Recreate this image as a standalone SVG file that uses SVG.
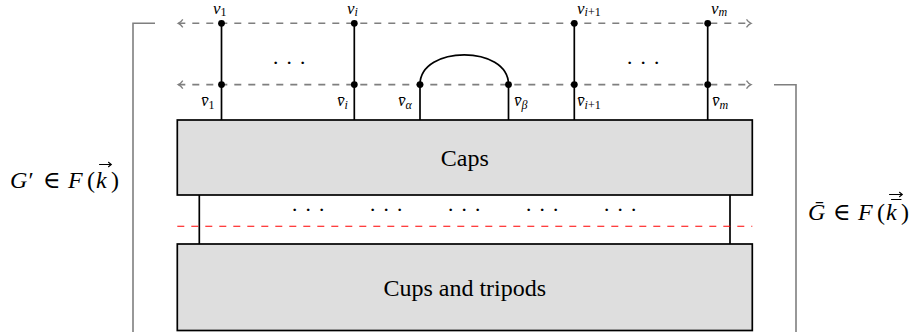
<svg xmlns="http://www.w3.org/2000/svg" width="917" height="332" viewBox="0 0 917 332">
<style>
  .lbl { font-family: "Liberation Serif", "DejaVu Serif", serif; font-size: 17px; font-style: italic; fill: #000; }
  .sub { font-size: 12px; }
  .up { font-style: normal; }
  .big { font-family: "Liberation Serif", "DejaVu Serif", serif; font-size: 24px; fill: #000; }
  .it { font-style: italic; }
  .box { fill: #dedede; stroke: #000; stroke-width: 1.7; }
  .wire { stroke: #000; stroke-width: 1.7; fill: none; }
  .gdash { stroke: #7f7f7f; stroke-width: 1.6; stroke-dasharray: 7 7; fill: none; }
  .rdash { stroke: #ff0000; stroke-width: 1.1; stroke-dasharray: 7 7; fill: none; }
  .bracket { stroke: #7f7f7f; stroke-width: 1.6; fill: none; }
  .dot { fill: #000; }
  .dots { font-family: "Liberation Serif", "DejaVu Serif", serif; font-size: 22px; fill: #000; letter-spacing: 6.2px; }
  .acc { stroke: #000; stroke-width: 1.1; fill: none; stroke-linecap: round; }
</style>
<defs>
  <marker id="arr" markerUnits="userSpaceOnUse" markerWidth="12" markerHeight="12" refX="9" refY="6" orient="auto-start-reverse" viewBox="0 0 12 12">
    <path d="M4.5,2 Q6.5,5 9,6 Q6.5,7 4.5,10" fill="none" stroke="#7f7f7f" stroke-width="1.3"/>
  </marker>
</defs>

<g id="brackets">
  <path class="bracket" d="M155,23.3 H133 V332"/>
  <path class="bracket" d="M774,84.7 H796 V332"/>
</g>

<g id="connectors">
  <path class="gdash" d="M178.3,23.3 H751" marker-start="url(#arr)" marker-end="url(#arr)"/>
  <path class="gdash" d="M178.3,84.6 H751" marker-start="url(#arr)" marker-end="url(#arr)"/>
  <line class="wire" x1="221.5" y1="23.3" x2="221.5" y2="120"/>
  <line class="wire" x1="354.3" y1="23.3" x2="354.3" y2="120"/>
  <line class="wire" x1="574.3" y1="23.3" x2="574.3" y2="120"/>
  <line class="wire" x1="707.7" y1="23.3" x2="707.7" y2="120"/>
  <line class="wire" x1="420" y1="84.6" x2="420" y2="120"/>
  <line class="wire" x1="508.5" y1="84.6" x2="508.5" y2="120"/>
  <path class="wire" d="M420,84.6 C420,45 508.5,45 508.5,84.6"/>
  <line class="wire" x1="199.3" y1="195" x2="199.3" y2="244"/>
  <line class="wire" x1="730" y1="195" x2="730" y2="244"/>
  <path class="rdash" d="M177.3,226.3 H752.3"/>
</g>

<g id="vertices">
  <circle class="dot" cx="221.5" cy="23.3" r="3.4"/>
  <circle class="dot" cx="354.3" cy="23.3" r="3.4"/>
  <circle class="dot" cx="574.3" cy="23.3" r="3.4"/>
  <circle class="dot" cx="707.7" cy="23.3" r="3.4"/>
  <circle class="dot" cx="221.5" cy="84.6" r="3.4"/>
  <circle class="dot" cx="354.3" cy="84.6" r="3.4"/>
  <circle class="dot" cx="420" cy="84.6" r="3.4"/>
  <circle class="dot" cx="508.5" cy="84.6" r="3.4"/>
  <circle class="dot" cx="574.3" cy="84.6" r="3.4"/>
  <circle class="dot" cx="707.7" cy="84.6" r="3.4"/>
</g>

<g id="labels">
  <text class="lbl" x="213" y="13.5">v<tspan class="sub up" dy="2.5">1</tspan></text>
  <text class="lbl" x="347" y="13.5">v<tspan class="sub" dy="2.5">i</tspan></text>
  <text class="lbl" x="577" y="13.5">v<tspan class="sub" dy="2.5">i<tspan class="up">+1</tspan></tspan></text>
  <text class="lbl" x="711" y="13.5">v<tspan class="sub" dy="2.5">m</tspan></text>
  <text class="lbl" x="201" y="106">v̄<tspan class="sub up" dy="2.5">1</tspan></text>
  <text class="lbl" x="337" y="106">v̄<tspan class="sub" dy="2.5">i</tspan></text>
  <text class="lbl" x="398" y="106">v̄<tspan class="sub" dy="2.5">α</tspan></text>
  <text class="lbl" x="514" y="106">v̄<tspan class="sub" dy="2.5">β</tspan></text>
  <text class="lbl" x="577" y="106">v̄<tspan class="sub" dy="2.5">i<tspan class="up">+1</tspan></tspan></text>
  <text class="lbl" x="712" y="106">v̄<tspan class="sub" dy="2.5">m</tspan></text>
  <text class="dots" x="272" y="70">···</text>
  <text class="dots" x="626" y="70">···</text>
</g>

<g id="caps">
  <rect class="box" x="177.3" y="120" width="575" height="75"/>
  <text class="big" x="464.8" y="165.5" text-anchor="middle">Caps</text>
</g>

<g id="cups">
  <rect class="box" x="177.3" y="244" width="575" height="86.5"/>
  <text class="big" x="464.8" y="296" text-anchor="middle">Cups and tripods</text>
</g>

<g id="middots">
  <text class="dots" x="291" y="217">···</text>
  <text class="dots" x="369" y="217">···</text>
  <text class="dots" x="447" y="217">···</text>
  <text class="dots" x="525" y="217">···</text>
  <text class="dots" x="603" y="217">···</text>
</g>

<g id="left-label">
  <text class="big" y="188"><tspan class="it" x="10">G</tspan><tspan x="28.5">′</tspan><tspan x="43">∈</tspan><tspan class="it" x="68">F</tspan><tspan x="87">(</tspan><tspan class="it" x="96">k</tspan><tspan x="111">)</tspan></text>
  <path class="acc" d="M99.5,164.5 H111 M108.5,162.3 L111.3,164.5 L108.5,166.7"/>
</g>
<g id="right-label">
  <text class="big" y="220"><tspan class="it" x="808">Ḡ</tspan><tspan x="833">∈</tspan><tspan class="it" x="858">F</tspan><tspan x="877">(</tspan><tspan class="it" x="886">k</tspan><tspan x="901">)</tspan></text>
  <path class="acc" d="M891.5,199.5 H901"/>
  <path class="acc" d="M889.5,194.5 H902 M899.5,192.3 L902.3,194.5 L899.5,196.7"/>
</g>
</svg>
